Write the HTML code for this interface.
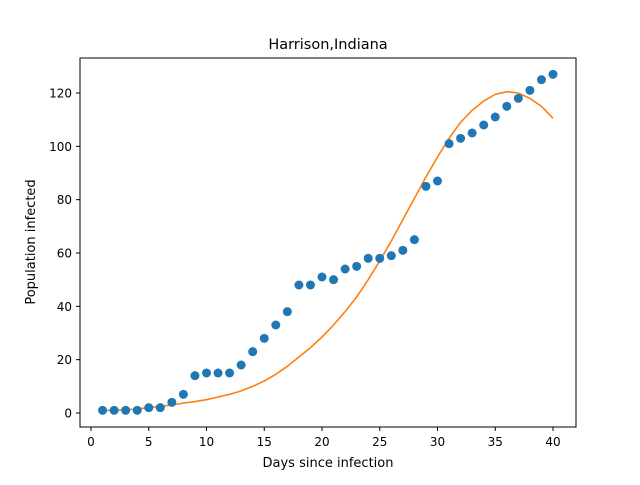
<!DOCTYPE html>
<html><head><meta charset="utf-8"><style>
body{margin:0;background:#fff;}
svg text{font-family:"DejaVu Sans","Liberation Sans",sans-serif;}
</style></head><body>
<svg id="chart" width="640" height="480" xmlns="http://www.w3.org/2000/svg">
<rect width="640" height="480" fill="#fff"/>
<text x="328" y="49" font-size="14.5" text-anchor="middle">Harrison,Indiana</text>
<g id="ticks"></g>
<g id="curve"></g>
<g id="pts"></g>
<rect x="80" y="58" width="496" height="369" fill="none" stroke="#000" stroke-width="1"/>
<text x="328" y="467" font-size="13" text-anchor="middle">Days since infection</text>
<text transform="translate(35,242) rotate(-90)" font-size="13" text-anchor="middle">Population infected</text>
</svg>
<script>
const days=[1,2,3,4,5,6,7,8,9,10,11,12,13,14,15,16,17,18,19,20,21,22,23,24,25,26,27,28,29,30,31,32,33,34,35,36,37,38,39,40];
const observed=[1,1,1,1,2,2,4,7,14,15,15,15,18,23,28,33,38,48,48,51,50,54,55,58,58,59,61,65,85,87,101,103,105,108,111,115,118,121,125,127];
const fitted=[1,1,1.2,1.5,2,2.5,3,3.7,4.3,5,6,7,8.3,10,12,14.5,17.5,21,24.5,28.5,33,38,43.5,50,57,64.5,72.5,80.5,88.5,96,103,109,113.5,117,119.5,120.5,120,118,115,110.5];
const xTicks=[0,5,10,15,20,25,30,35,40];
const yTicks=[0,20,40,60,80,100,120];
const NS="http://www.w3.org/2000/svg";
function sx(v){return 91+v*(553-91)/40;}
function sy(v){return 413-v*(413-93)/120;}
function mk(tag,attrs,parent){const e=document.createElementNS(NS,tag);for(const k in attrs)e.setAttribute(k,attrs[k]);parent.appendChild(e);return e;}
const tg=document.getElementById('ticks');
xTicks.forEach(t=>{
  const l=mk('line',{x1:sx(t),x2:sx(t),y1:427,y2:431,stroke:'#000'},tg);
  
  
  const tx=mk('text',{x:sx(t),y:446,'font-size':12,'text-anchor':'middle'},tg);tx.textContent=t;
  
  
});
yTicks.forEach(t=>{
  const l=mk('line',{x1:76,x2:80,y1:sy(t),y2:sy(t),stroke:'#000'},tg);
  
  
  const tx=mk('text',{x:72,y:sy(t)+4.5,'font-size':12,'text-anchor':'end'},tg);tx.textContent=t;
  
  
});
const pg=document.getElementById('pts');
days.forEach((d,i)=>{
  const c=mk('circle',{cx:sx(d),cy:sy(observed[i]),r:4.5,fill:'#1f77b4'},pg);
  
  
});
const p=mk('polyline',{points:days.map((d,i)=>sx(d)+','+sy(fitted[i])).join(' '),fill:'none',stroke:'#ff7f0e','stroke-width':1.6},document.getElementById('curve'));


</script>
</body></html>
